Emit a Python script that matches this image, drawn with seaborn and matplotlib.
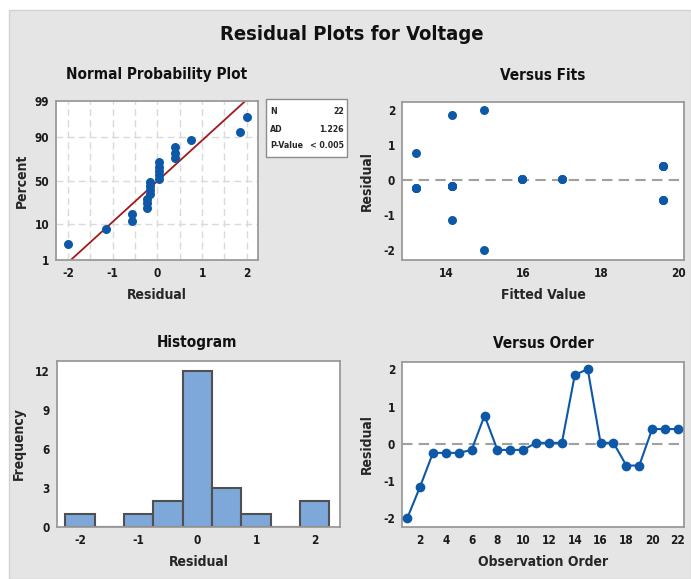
import statistics
import numpy as np
import pandas as pd
import matplotlib
matplotlib.use("Agg")
import matplotlib.pyplot as plt
from matplotlib.patches import Rectangle
import seaborn as sns

# DATA
obs_order = list(range(1, 23))
residuals = [-2.00, -1.15, -0.24, -0.24, -0.24, -0.16, 0.76, -0.16, -0.16, -0.16,
             0.03, 0.03, 0.03, 1.85, 2.01, 0.03, 0.03, -0.58, -0.58, 0.40, 0.40, 0.40]
fitted = [14.98, 14.15, 13.22, 13.22, 13.22, 14.15, 13.22, 14.15, 14.15, 14.15,
          15.96, 15.96, 15.96, 14.15, 14.98, 17.00, 17.00, 19.60, 19.60, 19.60, 19.60, 19.60]
prob_ticks = [1, 10, 50, 90, 99]
stat_names = ["N", "AD", "P-Value"]
stat_values = ["22", "1.226", "< 0.005"]

# STYLE
BLUE = "#0d59a8"
RED = "#a3191b"
HIST_FILL = "#7ea7da"
GRAY_BG = "#e5e5e5"
SPINE = "#9a9a9a"

sns.set_style("white")
plt.rcParams["font.family"] = ["DejaVu Sans"]
plt.rcParams["font.stretch"] = "condensed"
plt.rcParams["font.weight"] = "bold"
plt.rcParams["axes.labelweight"] = "bold"
plt.rcParams["axes.unicode_minus"] = False

W, H = 691, 579
fig = plt.figure(figsize=(W / 100, H / 100), dpi=100)
fig.patch.set_facecolor("white")
fig.patches.append(Rectangle((9 / W, 0), 1 - 9 / W, 1 - 10 / H, transform=fig.transFigure,
                             facecolor=GRAY_BG, edgecolor="#d2d2d2", lw=1, zorder=-5))


def px_axes(l, t, r, b):
    return fig.add_axes([l / W, 1 - b / H, (r - l) / W, (b - t) / H])


def style(ax):
    for s in ax.spines.values():
        s.set_color(SPINE)
        s.set_linewidth(1.3)
    ax.set_facecolor("white")
    ax.tick_params(length=3, width=1, color=SPINE, labelsize=8.5, pad=2,
                   labelcolor="#1a1a1a")
    for lab in ax.get_xticklabels() + ax.get_yticklabels():
        lab.set_fontweight("bold")


def ftitle(x, y, s, size=11):
    fig.text(x / W, 1 - y / H, s, ha="center", va="center", fontsize=size,
             fontweight="bold", color="#111111")


ftitle(352, 35, "Residual Plots for Voltage", size=14.5)

# --- Normal probability plot
df = pd.DataFrame({"order": obs_order, "resid": residuals, "fit": fitted})
n = len(df)
nd = statistics.NormalDist()
srt = np.sort(df["resid"].to_numpy())
pct = (np.arange(1, n + 1) - 0.3) / (n + 0.4)
npp = pd.DataFrame({"resid": srt, "z": [nd.inv_cdf(p) for p in pct]})
mu, sd = statistics.mean(residuals), statistics.stdev(residuals)
zl = np.linspace(nd.inv_cdf(0.01), nd.inv_cdf(0.99), 60)
line = pd.DataFrame({"x": mu + sd * zl, "z": zl})

ax1 = px_axes(56, 101, 258, 260)
style(ax1)
zt = [nd.inv_cdf(p / 100) for p in prob_ticks]
for xv in np.arange(-2, 2.01, 0.5):
    ax1.axvline(xv, color="#dadada", ls=(0, (5, 3)), lw=1, zorder=0)
for zv in zt[1:-1]:
    ax1.axhline(zv, color="#dadada", ls=(0, (5, 3)), lw=1, zorder=0)
sns.lineplot(data=line, x="x", y="z", color=RED, lw=1.3, ax=ax1, sort=False)
sns.scatterplot(data=npp, x="resid", y="z", color=BLUE, s=42, edgecolor=BLUE,
                linewidth=0, ax=ax1, zorder=3)
ax1.set_xlim(-2.27, 2.25)
ax1.set_ylim(zt[0], zt[-1])
ax1.set_yticks(zt)
ax1.set_yticklabels([str(p) for p in prob_ticks])
ax1.set_xticks([-2, -1, 0, 1, 2])
ax1.set_xticklabels(["-2", "-1", "0", "1", "2"])
style(ax1)
ax1.set_xlabel("Residual", fontsize=10, labelpad=6)
ax1.set_ylabel("Percent", fontsize=10, labelpad=4)
ftitle(157, 75, "Normal Probability Plot")

# stats box
fig.patches.append(Rectangle((266 / W, 1 - 157 / H), 81 / W, 58 / H, transform=fig.transFigure,
                             facecolor="white", edgecolor="#8c8c8c", lw=1, zorder=1))
for i, (nm, val) in enumerate(zip(stat_names, stat_values)):
    yy = 1 - (112 + i * 17) / H
    fig.text(270 / W, yy, nm, ha="left", va="center", fontsize=6.3, fontweight="bold")
    fig.text(344 / W, yy, val, ha="right", va="center", fontsize=6.3, fontweight="bold")

# --- Versus fits
ax2 = px_axes(402, 102, 684, 260)
style(ax2)
ax2.axhline(0, color="#a0a0a0", ls=(0, (5, 3)), lw=1.5, zorder=1)
sns.scatterplot(data=df, x="fit", y="resid", color=BLUE, s=42, edgecolor=BLUE,
                linewidth=0, ax=ax2, zorder=3)
ax2.set_xlim(12.86, 20.15)
ax2.set_ylim(-2.29, 2.23)
ax2.set_xticks([14, 16, 18, 20])
ax2.set_yticks([-2, -1, 0, 1, 2])
style(ax2)
ax2.set_xlabel("Fitted Value", fontsize=10, labelpad=6)
ax2.set_ylabel("Residual", fontsize=10, labelpad=7)
ftitle(543, 75, "Versus Fits")

# --- Histogram
ax3 = px_axes(57, 361, 340, 527)
style(ax3)
sns.histplot(data=df, x="resid", bins=np.arange(-2.25, 2.26, 0.5), color=HIST_FILL,
             edgecolor="#505050", linewidth=1.5, alpha=1, ax=ax3)
ax3.set_xlim(-2.39, 2.43)
ax3.set_ylim(0, 12.75)
ax3.set_xticks([-2, -1, 0, 1, 2])
ax3.set_yticks([0, 3, 6, 9, 12])
style(ax3)
ax3.set_xlabel("Residual", fontsize=10, labelpad=6)
ax3.set_ylabel("Frequency", fontsize=10, labelpad=7)
ftitle(197, 343, "Histogram")

# --- Versus order
ax4 = px_axes(402, 362, 684, 527)
style(ax4)
ax4.axhline(0, color="#a0a0a0", ls=(0, (5, 3)), lw=1.5, zorder=1)
sns.lineplot(data=df, x="order", y="resid", color=BLUE, lw=1.5, marker="o",
             markersize=7, markeredgewidth=0, ax=ax4, zorder=3)
ax4.set_xlim(0.6, 22.47)
ax4.set_ylim(-2.23, 2.2)
ax4.set_xticks(list(range(2, 23, 2)))
ax4.set_yticks([-2, -1, 0, 1, 2])
style(ax4)
ax4.set_xlabel("Observation Order", fontsize=10, labelpad=6)
ax4.set_ylabel("Residual", fontsize=10, labelpad=7)
ftitle(543, 343, "Versus Order")

fig.savefig("out.png", dpi=100)
